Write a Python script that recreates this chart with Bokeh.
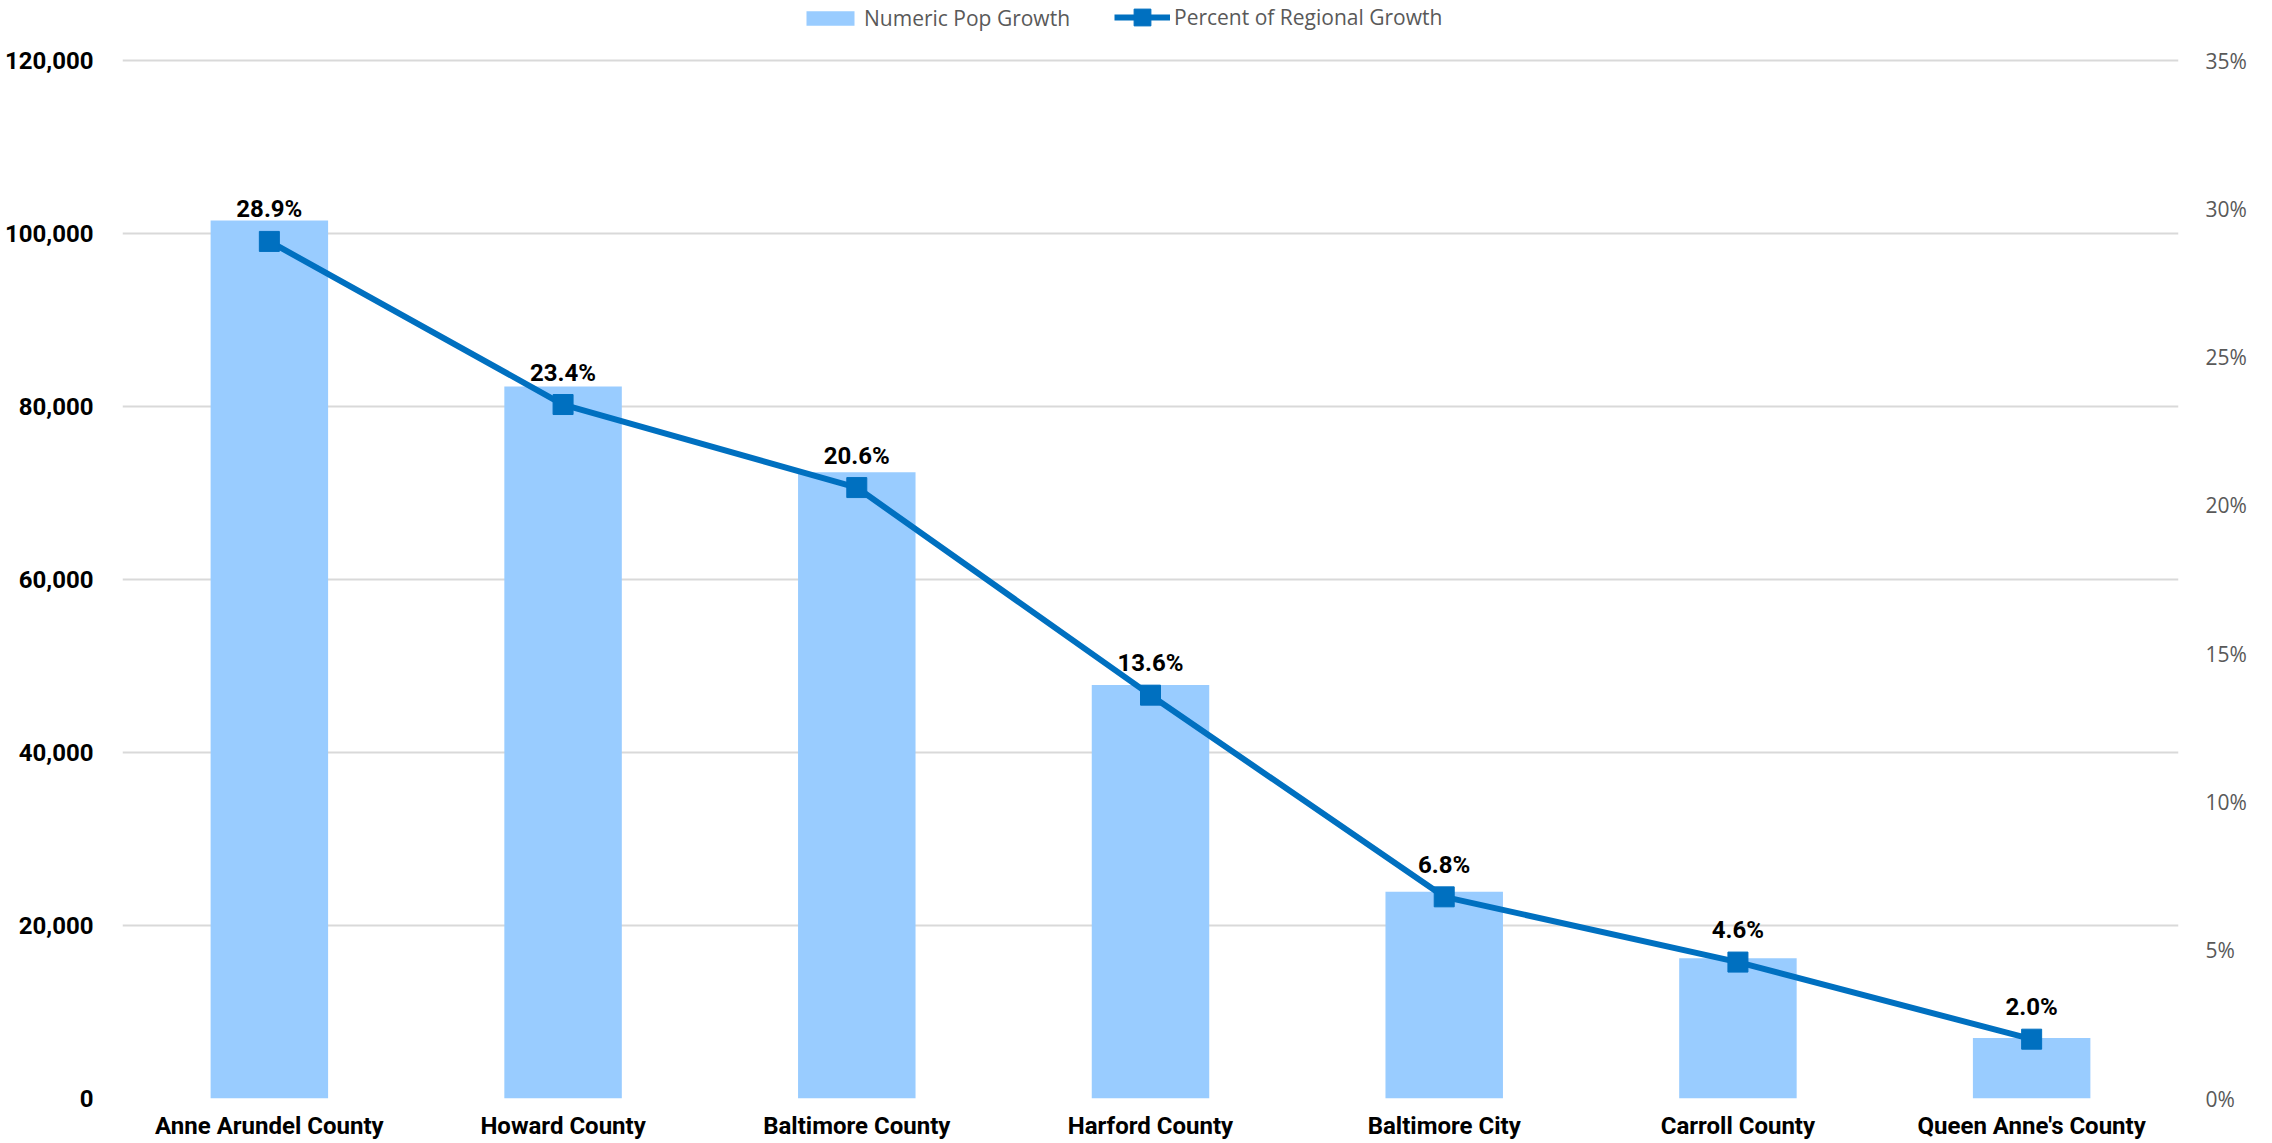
from bokeh.plotting import figure
from bokeh.models import (FactorRange, Range1d, LinearAxis, FixedTicker, Legend, LegendItem,
                          ColumnDataSource)
from bokeh.core.properties import value
from bokeh.embed import file_html
from bokeh.resources import INLINE

categories = ["Anne Arundel County", "Howard County", "Baltimore County", "Harford County",
              "Baltimore City", "Carroll County", "Queen Anne's County"]
pop_growth = [101500, 82300, 72400, 47800, 23900, 16200, 7000]
pct_regional = [28.9, 23.4, 20.6, 13.6, 6.8, 4.6, 2.0]
pct_labels = [f"{v:.1f}%" for v in pct_regional]

left_ticks = [0, 20000, 40000, 60000, 80000, 100000, 120000]
left_tick_labels = ["0", "20,000", "40,000", "60,000", "80,000", "100,000", "120,000"]
right_ticks = [0, 5, 10, 15, 20, 25, 30, 35]
right_tick_labels = ["0%", "5%", "10%", "15%", "20%", "25%", "30%", "35%"]

BAR = "#99CCFF"
LINE = "#0070C0"

W, H = 2272, 1143
BORDER_L, BORDER_R, BORDER_B = 122, 94, 45
frame_top_pad = 60
frame_h = H - BORDER_B
scale = frame_h / (frame_h - frame_top_pad)

src = ColumnDataSource(dict(cat=categories, pop=pop_growth, pct=pct_regional, lab=pct_labels))

p = figure(width=W, height=H, x_range=FactorRange(*categories, range_padding=0),
           y_range=Range1d(0, left_ticks[-1] * scale),
           output_backend="svg", toolbar_location=None,
           min_border_left=BORDER_L, min_border_right=BORDER_R, min_border_top=0,
           min_border_bottom=BORDER_B)
p.outline_line_color = None
p.extra_y_ranges = {"pct": Range1d(0, right_ticks[-1] * scale)}

bars = p.vbar(x="cat", top="pop", width=0.4, source=src, fill_color=BAR, line_color=None)
ln = p.line(x="cat", y="pct", source=src, y_range_name="pct", line_color=LINE, line_width=6)
mk = p.scatter(x="cat", y="pct", source=src, y_range_name="pct", marker="square", size=20,
               fill_color=LINE, line_color=LINE)
p.text(x="cat", y="pct", text="lab", source=src, y_range_name="pct",
       text_font=value("Roboto"), text_font_style="bold", text_font_size="24px",
       text_color="black", text_align="center", text_baseline="alphabetic", y_offset=-32)

# left axis
ya = p.yaxis[0]
ya.ticker = FixedTicker(ticks=left_ticks)
ya.major_label_overrides = {t: l for t, l in zip(left_ticks, left_tick_labels)}
ya.major_label_text_font = "Roboto"
ya.major_label_text_font_style = "bold"
ya.major_label_text_font_size = "24px"
ya.major_label_text_color = "black"
ya.major_label_standoff = 23
ya.axis_line_color = None
ya.major_tick_line_color = None
ya.minor_tick_line_color = None

# right axis
ra = LinearAxis(y_range_name="pct", ticker=FixedTicker(ticks=right_ticks))
ra.major_label_overrides = {t: l for t, l in zip(right_ticks, right_tick_labels)}
ra.major_label_text_font = "Open Sans"
ra.major_label_text_font_size = "21px"
ra.major_label_text_color = "#595959"
ra.major_label_standoff = 21
ra.axis_line_color = None
ra.major_tick_line_color = None
ra.minor_tick_line_color = None
p.add_layout(ra, "right")

# x axis
xa = p.xaxis[0]
xa.major_label_text_font = "Roboto"
xa.major_label_text_font_style = "bold"
xa.major_label_text_font_size = "24px"
xa.major_label_text_color = "black"
xa.major_label_standoff = 7
xa.axis_line_color = None
xa.major_tick_line_color = None
xa.minor_tick_line_color = None

p.xgrid.grid_line_color = None
p.ygrid.ticker = FixedTicker(ticks=left_ticks)
p.ygrid.grid_line_color = "#d9d9d9"
p.ygrid.grid_line_width = 2

common = dict(orientation="horizontal", background_fill_alpha=0, border_line_color=None,
              label_text_font="Open Sans", label_text_font_size="21px",
              label_text_color="#595959", margin=0, padding=0)
legend1 = Legend(items=[LegendItem(label="Numeric Pop Growth", renderers=[bars])],
                 location=(678, frame_h - 17 - 15), glyph_width=60, glyph_height=18,
                 label_standoff=4, **common)
legend2 = Legend(items=[LegendItem(label="Percent of Regional Growth", renderers=[ln, mk])],
                 location=(992, frame_h - 17 - 21), glyph_width=56, glyph_height=42,
                 label_standoff=4, **common)
p.add_layout(legend1)
p.add_layout(legend2)

open("out.html", "w").write(file_html(p, INLINE))
